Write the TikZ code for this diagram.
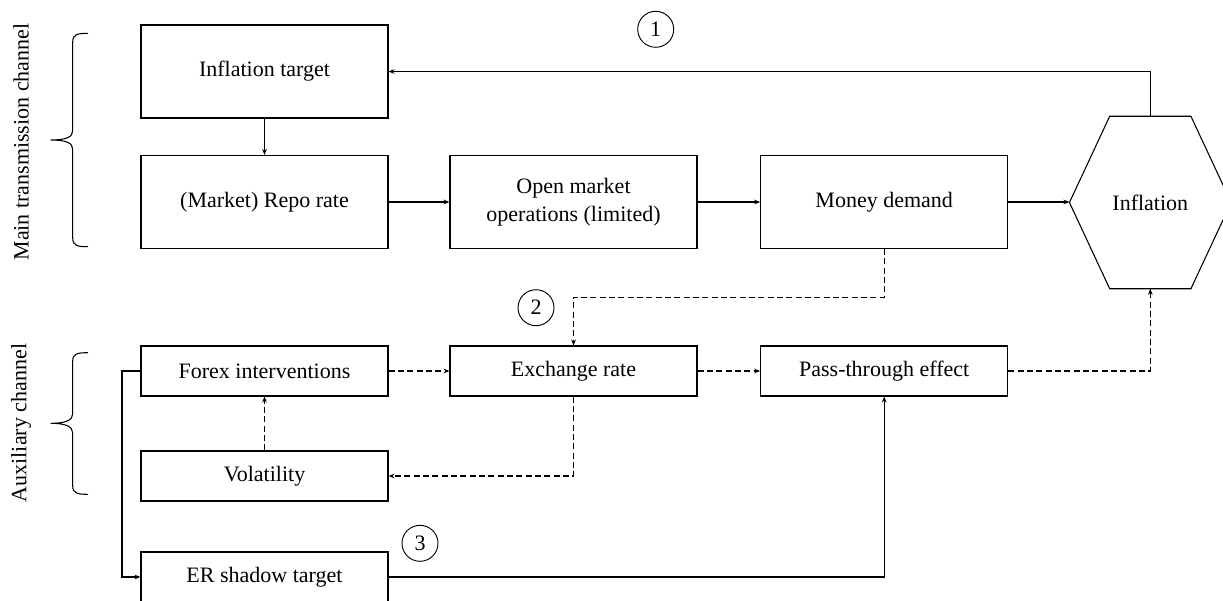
\documentclass[tikz,border=0pt]{standalone}
\usepackage{fontspec}
\setmainfont{Liberation Serif}
\usetikzlibrary{arrows.meta}

\tikzset{
  box/.style={draw, line width=0.8pt, minimum width=185.25pt, minimum height=69.75pt, inner sep=0pt, align=center},
  auxbox/.style={box, minimum height=37.5pt},
  num/.style={draw, circle, line width=0.7pt, minimum size=27pt, inner sep=0pt},
  link/.style={line width=0.8pt, -{Stealth[length=4.5pt, width=3.5pt]}},
  dlink/.style={link, dash pattern=on 4.5pt off 2.5pt},
}

\begin{document}
\begin{tikzpicture}[x=0.75pt,y=0.75pt,yscale=-1,xscale=1, font=\fontsize{16.5}{21}\selectfont]
\useasboundingbox (0,0) rectangle (1223,600);
\clip (0,0) rectangle (1223,600);

% Main channel
\node[box] (target) at (264.5,71.5) {Inflation target};
\node[box] (repo) at (264.5,202) {(Market) Repo rate};
\node[box] (omo) at (573.5,202) {Open market\\operations (limited)};
\node[box] (money) at (884.2,202) {Money demand};
\node[minimum width=120.9pt, minimum height=129pt, inner sep=0pt] (infl) at (1150.3,202.5) {Inflation};
\draw[line width=0.8pt] (infl.west) -- ([xshift=30.2pt]infl.north west) -- ([xshift=-30.2pt]infl.north east) -- (infl.east) -- ([xshift=-30.2pt]infl.south east) -- ([xshift=30.2pt]infl.south west) -- cycle;

% Auxiliary channel
\node[auxbox] (forex) at (264.5,371) {Forex interventions};
\node[auxbox] (exch) at (573.5,371) {Exchange rate};
\node[auxbox] (pass) at (884.2,371) {Pass-through effect};
\node[auxbox] (vol) at (264.5,476) {Volatility};
\node[auxbox] (shadow) at (264.5,577) {ER shadow target};

% Numbers
\node[num] (one) at (655.7,29.3) {1};
\node[num] (two) at (536,307.7) {2};
\node[num] (three) at (420,543.3) {3};

% Solid links
\draw[link] (target) -- (repo);
\draw[link] (repo) -- (omo);
\draw[link] (omo) -- (money);
\draw[link] (money.east) -- (money.east -| infl.west);
\draw[link] (infl.north) |- (target.east);
\draw[link] (forex.west) -- ++(-18.5,0) |- (shadow.west);
\draw[link] (shadow.east) -| (pass.south);

% Dashed links
\draw[dlink] (money.south) -- ++(0,48) -| (exch.north);
\draw[dlink] (forex) -- (exch);
\draw[dlink] (exch) -- (pass);
\draw[dlink] (pass.east) -| (infl.south);
\draw[dlink] (exch.south) |- (vol.east);
\draw[dlink] (vol) -- (forex);

% Braces
\draw[line width=0.8pt] (88,33.3) .. controls (78,33.3) and (72.7,34) .. (72.7,42) -- (72.7,131) .. controls (72.7,137) and (66,140) .. (50.7,140) .. controls (66,140) and (72.7,143) .. (72.7,149) -- (72.7,238) .. controls (72.7,246) and (78,246.7) .. (88,246.7);
\draw[line width=0.8pt] (88,352.7) .. controls (78,352.7) and (72.7,353.4) .. (72.7,361) -- (72.7,414) .. controls (72.7,420) and (66,423.3) .. (50.7,423.3) .. controls (66,423.3) and (72.7,426.6) .. (72.7,433) -- (72.7,486) .. controls (72.7,493.6) and (78,494.3) .. (88,494.3);

% Side labels
\node[rotate=90] (mainlbl) at (21,142) {Main transmission channel};
\node[rotate=90] (auxlbl) at (21,423) {Auxiliary channel};

\end{tikzpicture}
\end{document}
